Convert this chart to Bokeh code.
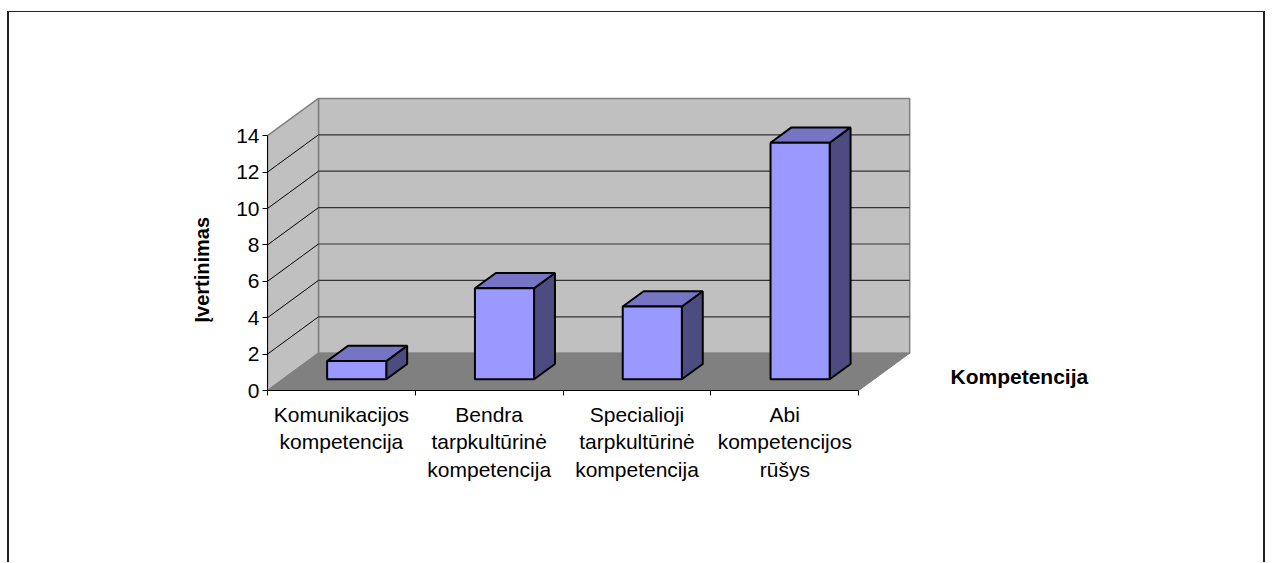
from bokeh.plotting import figure
from bokeh.models import FixedTicker, Label, Range1d, Title
from bokeh.embed import file_html
from bokeh.resources import INLINE

# ---- data ----
categories = [
    "Komunikacijos\nkompetencija",
    "Bendra\ntarpkultūrinė\nkompetencija",
    "Specialioji\ntarpkultūrinė\nkompetencija",
    "Abi\nkompetencijos\nrūšys",
]
values = [1, 5, 4, 13]
y_ticks = [0, 2, 4, 6, 8, 10, 12, 14]
y_title = "Įvertinimas"
x_title = "Kompetencija"

# ---- 3D projection helpers (depth offset in data units) ----
n = len(categories)
ymax = max(y_ticks)
DX = 0.345   # depth shift along x (category units)
DY = 2.05    # depth shift along y (value units)
Z0, Z1 = 0.30, 0.71   # bar front/back depth fractions
HW = 0.20            # half bar width

FONT = "Liberation Sans"

p = figure(width=1258, height=551, output_backend="svg", toolbar_location=None,
           x_range=Range1d(0, 1000 / 147.8), y_range=Range1d(0, 378 / 18.2),
           min_border_left=258, min_border_right=0, min_border_top=0,
           min_border_bottom=173)
p.styles = {"margin-left": "7px", "margin-top": "11px",
            "border-left": "2px solid #222", "border-top": "1px solid #222",
            "border-right": "2px solid #222"}
p.outline_line_color = None
p.xgrid.visible = False
p.ygrid.visible = False
p.background_fill_color = "white"
p.border_fill_color = "white"

# walls and floor
p.patch([DX, n + DX, n + DX, DX], [DY, DY, ymax + DY, ymax + DY],
        fill_color="#c0c0c0", line_color="#808080", line_width=1.5)
p.patch([0, DX, DX, 0], [0, DY, ymax + DY, ymax],
        fill_color="#c0c0c0", line_color="#808080", line_width=1.5)
p.patch([0, n, n + DX, DX], [0, 0, DY, DY],
        fill_color="#808080", line_color="#808080", line_width=1)

# gridlines
grid = [t for t in y_ticks if 0 < t < ymax]
p.multi_line([[DX, n + DX] for t in grid], [[t + DY, t + DY] for t in grid],
             line_color="#333333", line_width=1.2)
p.multi_line([[0, DX] for t in grid], [[t, t + DY] for t in grid],
             line_color="black", line_width=1)

# bars
fx, fy, tx, ty, sx, sy = [], [], [], [], [], []
for i, v in enumerate(values):
    c = i + 0.5
    l0, r0 = c - HW + Z0 * DX, c + HW + Z0 * DX
    l1, r1 = c - HW + Z1 * DX, c + HW + Z1 * DX
    b0, t0 = Z0 * DY, v + Z0 * DY
    b1, t1 = Z1 * DY, v + Z1 * DY
    sx.append([r0, r1, r1, r0]); sy.append([b0, b1, t1, t0])
    tx.append([l0, r0, r1, l1]); ty.append([t0, t0, t1, t1])
    fx.append([l0, r0, r0, l0]); fy.append([b0, b0, t0, t0])
p.patches(sx, sy, fill_color="#4c4c80", line_color="black", line_width=2)
p.patches(tx, ty, fill_color="#7575c4", line_color="black", line_width=2)
p.patches(fx, fy, fill_color="#9999ff", line_color="black", line_width=2)

# y axis
ya = p.yaxis[0]
ya.ticker = FixedTicker(ticks=y_ticks)
ya.bounds = (0, ymax)
ya.minor_tick_line_color = None
ya.major_tick_in = 0
ya.major_tick_out = 5
ya.major_label_standoff = 3
ya.major_label_text_font = FONT
ya.major_label_text_font_size = "21px"
ya.major_label_text_color = "black"
ya.axis_line_color = "black"

# y-axis title, placed along the value axis (0..14)
p.add_layout(Title(text=y_title, align="left", offset=68, standoff=41,
                   text_font=FONT, text_font_style="bold", text_font_size="20px",
                   text_color="black"), "left")

# x axis
xa = p.xaxis[0]
centers = [i + 0.5 for i in range(n)]
xa.ticker = FixedTicker(ticks=centers, minor_ticks=list(range(n + 1)))
xa.bounds = (0, n)
xa.major_label_overrides = {c: lab for c, lab in zip(centers, categories)}
xa.major_tick_in = 0
xa.major_tick_out = 0
xa.minor_tick_in = 0
xa.minor_tick_out = 5
xa.minor_tick_line_color = "black"
xa.major_label_standoff = 7
xa.major_label_text_font = FONT
xa.major_label_text_font_size = "21px"
xa.major_label_text_color = "black"
xa.axis_line_color = "black"

p.add_layout(Label(x=(950 - 267) / 147.8, y=(390 - 376) / 18.2, text=x_title,
                   text_font=FONT, text_font_style="bold", text_font_size="21px",
                   text_baseline="middle", text_align="left", text_color="black"))

open("out.html", "w").write(file_html(p, INLINE))
